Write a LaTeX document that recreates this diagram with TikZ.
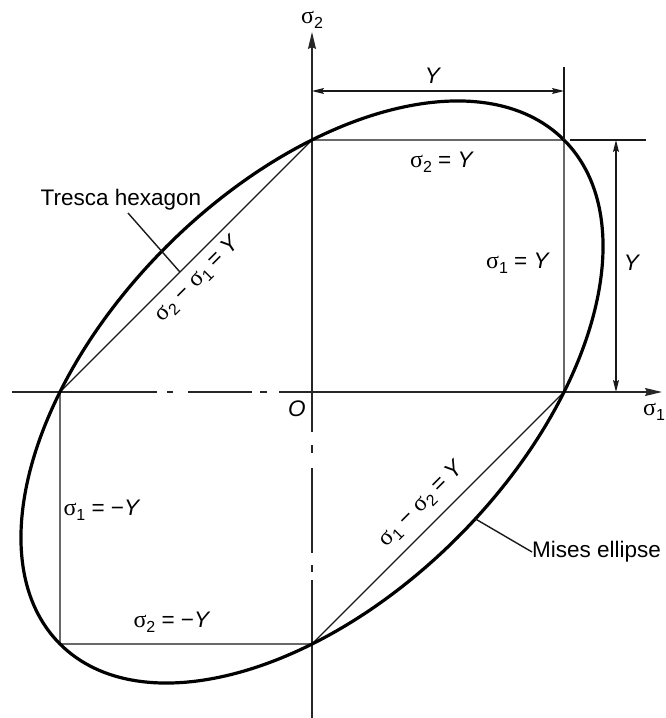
\documentclass[tikz,border=0pt]{standalone}
\usepackage{fontspec}
\setmainfont{Liberation Sans}
\newfontfamily\grkfont{Liberation Serif}
\usetikzlibrary{arrows.meta,calc}
\newcommand\sg[1]{{\grkfont\fontsize{24}{27}\selectfont σ}\raisebox{-0.4ex}{\fontsize{16}{16}\selectfont #1}}
\begin{document}
\begin{tikzpicture}[x=1pt,y=1pt,
  lbl/.style={font=\fontsize{22.5}{27}\selectfont, inner sep=0pt, text=black},
  hexedge/.style={line width=1.4pt, draw=black!90, line join=round},
  axisline/.style={line width=1.6pt, draw=black!85},
  dimline/.style={line width=1.3pt, draw=black!90},
  leader/.style={line width=1.4pt, draw=black!90},
  bigtip/.tip={Stealth[length=17pt,width=8pt,inset=2pt]},
  smalltip/.tip={Stealth[length=12pt,width=6pt,inset=2pt]}]
\useasboundingbox (-312,-326) rectangle (354,392);
% key points
\coordinate (O) at (0,0);
\coordinate (A) at (0,252);
\coordinate (B) at (252,252);
\coordinate (C) at (252,0);
\coordinate (D) at (0,-252);
\coordinate (E) at (-252,-252);
\coordinate (F) at (-252,0);
\coordinate (xl) at (-300,0);
\coordinate (xr) at (350,0);
\coordinate (yt) at (0,360);
\coordinate (yb) at (0,-330);
% axes
\draw[axisline, dash pattern=on 145pt off 10pt on 6pt off 15pt on 64pt off 8pt on 7pt off 12pt on 100pt] (xl) -- (O);
\draw[axisline, -bigtip] (O) -- (xr);
\draw[axisline, -bigtip] (O) -- (yt);
\draw[axisline, dash pattern=on 40pt off 13pt on 8pt off 15pt on 85pt off 12pt on 7pt off 8pt on 200pt] (O) -- (yb);
% Tresca hexagon
\draw[hexedge] (A) -- (B) -- (C) -- (D) -- (E) -- (F) -- cycle;
% Mises ellipse
\draw[line width=3.2pt, black, rotate=45] (O) ellipse [x radius=356.38pt, y radius=205.76pt];
% top dimension
\coordinate (extTop) at (252,325);
\coordinate (dimTL) at (0,301);
\coordinate (dimTR) at (252,301);
\draw[dimline] (extTop) -- (B);
\draw[dimline, smalltip-smalltip] (dimTL) -- (dimTR);
\node[lbl] (ytop) at (121,316) {\textit{Y}};
% right dimension
\coordinate (extR1) at (258,252);
\coordinate (extR2) at (334,252);
\coordinate (dimRT) at (304,252);
\coordinate (dimRB) at (304,0);
\draw[dimline] (extR1) -- (extR2);
\draw[dimline, smalltip-smalltip] (dimRT) -- (dimRB);
\node[lbl] (yright) at (320,129) {\textit{Y}};
% axis labels
\node[lbl] (s2axis) at (0,372) {\sg{2}};
\node[lbl] (s1axis) at (342,-20) {\sg{1}};
\node[lbl] (olbl) at (-15,-17) {\textit{O}};
% edge labels
\node[lbl] (s2eqY) at (130,230) {\sg{2} = \textit{Y}};
\node[lbl] (s1eqY) at (206,129) {\sg{1} = \textit{Y}};
\node[lbl] (s1eqmY) at (-210,-118) {\sg{1} = −\textit{Y}};
\node[lbl] (s2eqmY) at (-140,-230) {\sg{2} = −\textit{Y}};
\node[lbl, rotate=45] (s2ms1) at (-114,113) {\sg{2} − \sg{1} = \textit{Y}};
\node[lbl, rotate=45] (s1ms2) at (110,-112) {\sg{1} − \sg{2} = \textit{Y}};
% callouts
\node[lbl] (tresca) at (-191,192) {Tresca hexagon};
\coordinate (trescaStart) at (-184,179);
\coordinate (trescaEnd) at ($(F)!0.476!(A)$);
\draw[leader] (trescaStart) -- (trescaEnd);
\node[lbl, anchor=west] (mises) at (220,-160) {Mises ellipse};
\coordinate (misesPt) at (163.4,-126.9);
\draw[leader] (misesPt) -- (mises.west);
\end{tikzpicture}
\end{document}
